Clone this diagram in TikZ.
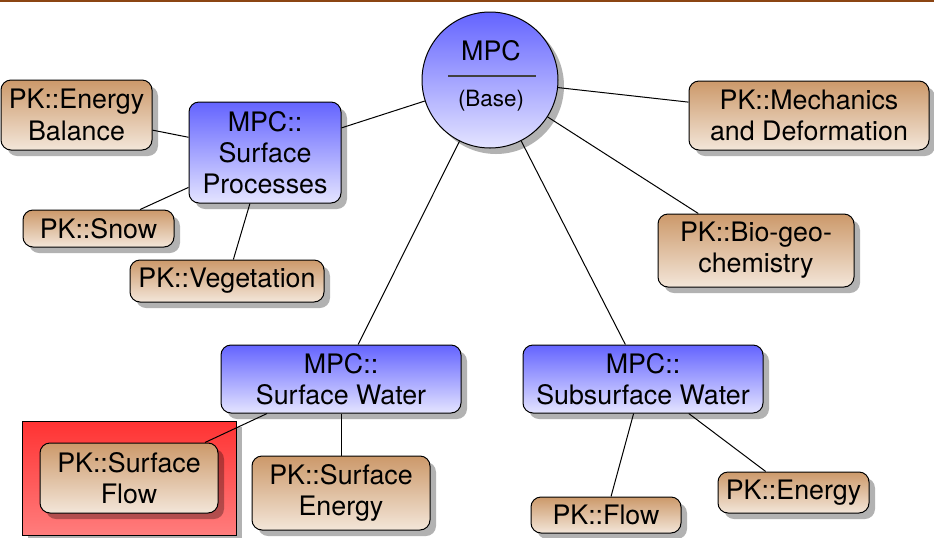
\documentclass[tikz,border=0pt]{standalone}
\usepackage{fontspec}
\setmainfont{TeX Gyre Heros}
\usetikzlibrary{shadows}
\definecolor{pkTop}{RGB}{204,153,106}
\definecolor{pkBot}{RGB}{243,230,217}
\definecolor{mpcTop}{RGB}{100,100,255}
\definecolor{mpcBot}{RGB}{228,228,255}
\definecolor{hlTop}{RGB}{255,50,50}
\definecolor{hlBot}{RGB}{255,125,125}
\definecolor{frameline}{RGB}{139,69,19}
\begin{document}
\begin{tikzpicture}[x=0.5pt,y=-0.5pt,
  shad/.style={drop shadow={shadow xshift=3pt, shadow yshift=-3pt, fill=black, opacity=0.3}},
  box/.style={shad, draw=black, line width=0.5pt, rounded corners=5pt, align=center, inner sep=0pt,
    font=\fontsize{13.4}{15.6}\selectfont},
  pk/.style={box, top color=pkTop, bottom color=pkBot},
  mpcbox/.style={box, top color=mpcTop, bottom color=mpcBot},
  hlbox/.style={shad, draw=black, line width=0.5pt, top color=hlTop, bottom color=hlBot, inner sep=0pt},
  link/.style={draw=black, line width=0.5pt},
  txt/.style={inner sep=0pt, anchor=base}]
\useasboundingbox (0,0) rectangle (934,537);
\draw[frameline, line width=1pt] (0,1) -- (934,1);

% highlight
\node[hlbox, minimum width=107pt, minimum height=57pt] (hl) at (129,478) {};

% base circle
\node[circle, shad, draw=black, line width=0.5pt, inner sep=0pt, minimum size=68pt,
      top color=mpcTop, bottom color=mpcBot] (mpc) at (490,80) {};
\node[txt, font=\fontsize{13.4}{15.6}\selectfont] (mpct) at (491,60) {MPC};
\node[txt, font=\fontsize{11.2}{13}\selectfont] (mpcb) at (491,106) {(Base)};
\draw[black!75, line width=0.6pt] (448,76) -- (536,76);

% boxes
\node[pk, minimum width=75.5pt, minimum height=35pt] (eb) at (76.5,115) {PK::Energy\\Balance};
\node[mpcbox, minimum width=76pt, minimum height=50.5pt] (sp) at (265,152.5) {MPC::\\Surface\\Processes};
\node[pk, minimum width=75.5pt, minimum height=18.5pt] (snow) at (98.5,228.5) {PK::Snow};
\node[pk, minimum width=97pt, minimum height=21pt] (veg) at (227,281) {PK::Vegetation};
\node[pk, minimum width=120pt, minimum height=34.5pt] (mech) at (809,115.5) {PK::Mechanics\\and Deformation};
\node[pk, minimum width=98pt, minimum height=36.5pt] (bio) at (756,250.5) {PK::Bio-geo-\\chemistry};
\node[mpcbox, minimum width=120pt, minimum height=34pt] (sw) at (341,379) {MPC::\\Surface Water};
\node[mpcbox, minimum width=120pt, minimum height=34pt] (ssw) at (643,379) {MPC::\\Subsurface Water};
\node[pk, minimum width=89pt, minimum height=35pt] (sf) at (129,478) {PK::Surface\\Flow};
\node[pk, minimum width=89pt, minimum height=37pt] (se) at (341,493) {PK::Surface\\Energy};
\node[pk, minimum width=75pt, minimum height=18pt] (flow) at (606,515) {PK::Flow};
\node[pk, minimum width=75.5pt, minimum height=20.5pt] (en) at (793.5,492.5) {PK::Energy};

% connectors
\draw[link] (mpc) -- (sp);
\draw[link] (mpc) -- (mech);
\draw[link] (mpc) -- (bio);
\draw[link] (mpc) -- (sw);
\draw[link] (mpc) -- (ssw);
\draw[link] (sp) -- (eb);
\draw[link] (sp) -- (snow);
\draw[link] (sp) -- (veg);
\draw[link] (sw) -- (sf);
\draw[link] (sw) -- (se);
\draw[link] (ssw) -- (flow);
\draw[link] (ssw) -- (en);
\end{tikzpicture}
\end{document}
